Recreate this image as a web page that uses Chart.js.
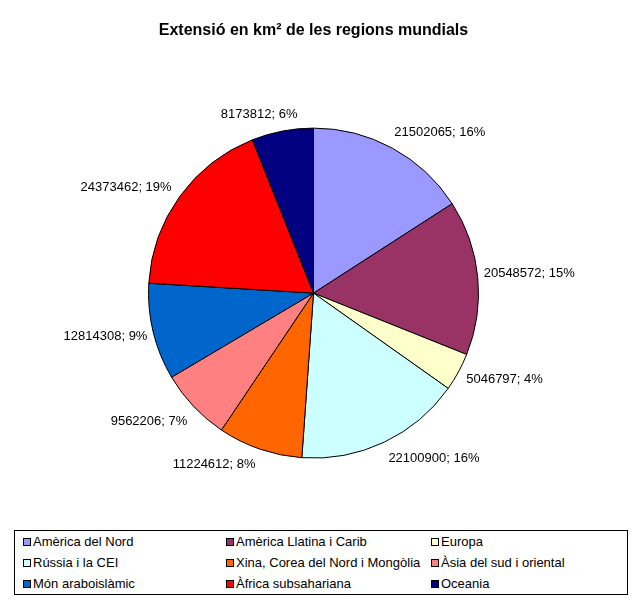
<!DOCTYPE html>
<html>
<head>
<meta charset="utf-8">
<title>Extensió en km² de les regions mundials</title>
<script src="https://cdn.jsdelivr.net/npm/chart.js@4.4.1/dist/chart.umd.min.js"></script>
<style>
  html, body { margin: 0; padding: 0; background: #fff; }
  #wrap { position: relative; width: 642px; height: 604px; font-family: "Liberation Sans", Arial, sans-serif; }
  #chart { position: absolute; left: 0; top: 0; }
  #legend {
    position: absolute; left: 14px; top: 530px; width: 612px; height: 63px;
    border: 1px solid #000; background: #fff;
  }
  .item { position: absolute; font-size: 13px; color: #000; line-height: 15px; white-space: nowrap; }
  .sw { display: inline-block; width: 6px; height: 6px; border: 1px solid #000; margin-right: 2px; vertical-align: 0px; }
</style>
</head>
<body>
<div id="wrap">
  <canvas id="chart" width="642" height="604"></canvas>
  <div id="legend"></div>
</div>
<script>
// regions, in the order Excel draws them (clockwise from 12 o'clock)
const regions = [
  'Amèrica del Nord', 'Amèrica Llatina i Carib', 'Europa',
  'Rússia i la CEI', 'Xina, Corea del Nord i Mongòlia', 'Àsia del sud i oriental',
  'Món araboislàmic', 'Àfrica subsahariana', 'Oceania'
];
// surface in km²
const areas = [21502065, 20548572, 5046797, 22100900, 11224612, 9562206, 12814308, 24373462, 8173812];
// percentages as printed on the labels
const percents = [16, 15, 4, 16, 8, 7, 9, 19, 6];
const colors = ['#9999FF', '#993366', '#FFFFCC', '#CCFFFF', '#FF6600', '#FF8080', '#0066CC', '#FF0000', '#000080'];

const FONT = '"Liberation Sans", Arial, sans-serif';

// value labels placed just outside each slice
const sliceLabels = {
  id: 'sliceLabels',
  afterDatasetsDraw(chart) {
    const ctx = chart.ctx;
    const arcs = chart.getDatasetMeta(0).data;
    // small hand nudges where Excel moved a label
    const nudge = [[-3, -1], [-4, -2], [-1, 0], [0, 1], [-1, 0], [1, 4], [4, 1], [0, 1], [17, 0]];
    ctx.save();
    ctx.font = '13px ' + FONT;
    ctx.fillStyle = '#000';
    ctx.textBaseline = 'middle';
    arcs.forEach((arc, i) => {
      const { x, y, startAngle, endAngle, outerRadius } = arc.getProps(['x', 'y', 'startAngle', 'endAngle', 'outerRadius'], true);
      const a = (startAngle + endAngle) / 2;
      const r = outerRadius + 10;
      let px = x + Math.cos(a) * r;
      let py = y + Math.sin(a) * r + Math.sin(a) * 6.5;
      ctx.textAlign = Math.cos(a) >= 0 ? 'left' : 'right';
      const text = areas[i] + '; ' + percents[i] + '%';
      ctx.fillText(text, px + nudge[i][0], py + nudge[i][1]);
    });
    ctx.restore();
  }
};

new Chart(document.getElementById('chart'), {
  type: 'pie',
  data: {
    labels: regions,
    datasets: [{
      data: areas,
      backgroundColor: colors,
      borderColor: '#000',
      borderWidth: 1,
      radius: 165
    }]
  },
  options: {
    responsive: false,
    animation: false,
    events: [],
    layout: { padding: { left: 100, right: 115, top: 0, bottom: 118 } },
    plugins: {
      legend: { display: false },
      tooltip: { enabled: false },
      title: {
        display: true,
        text: 'Extensió en km² de les regions mundials',
        color: '#000',
        font: { family: FONT, size: 16, weight: 'bold', lineHeight: 1.2 },
        padding: { top: 21, bottom: 60 }
      }
    }
  },
  plugins: [sliceLabels]
});

// legend: 3 columns x 3 rows inside a bordered box
const legendCols = [8, 211, 416];
const legendRows = [3, 24, 45];
const legend = document.getElementById('legend');
regions.forEach((name, i) => {
  const el = document.createElement('div');
  el.className = 'item';
  el.style.left = legendCols[i % 3] + 'px';
  el.style.top = legendRows[Math.floor(i / 3)] + 'px';
  const sw = document.createElement('span');
  sw.className = 'sw';
  sw.style.background = colors[i];
  el.appendChild(sw);
  el.appendChild(document.createTextNode(name));
  legend.appendChild(el);
});
</script>
</body>
</html>
